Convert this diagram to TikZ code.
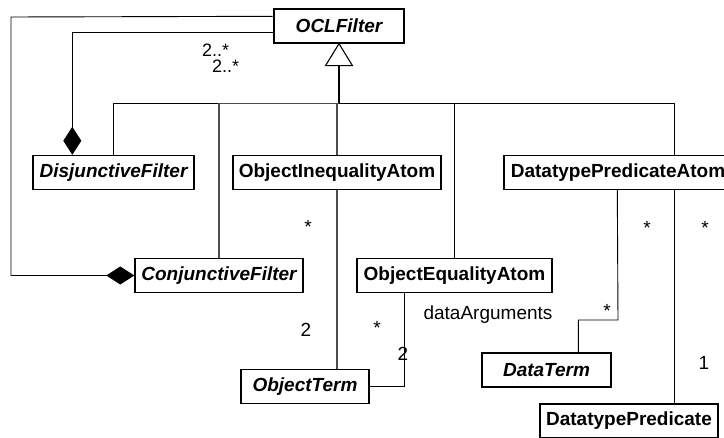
\documentclass[tikz,border=0pt]{standalone}
\usepackage{fontspec}
\setmainfont{Liberation Sans}
\usetikzlibrary{arrows.meta,calc}
\begin{document}
\begin{tikzpicture}[x=1pt,y=-1pt,
  cls/.style={draw, line width=1.4pt, fill=white, inner sep=0pt, minimum height=34pt,
    font=\fontsize{19}{21}\selectfont\bfseries},
  abs/.style={cls, font=\fontsize{19}{21}\selectfont\bfseries\itshape},
  lbl/.style={inner sep=0pt, anchor=base, font=\fontsize{19}{21}\selectfont},
  conn/.style={line width=0.9pt, black},
  gconn/.style={line width=1.1pt, black!70},
  agg/.style={conn, {Diamond[length=28pt,width=18pt]}-},
]
\useasboundingbox (0,0) rectangle (724,438);

% classes
\node[abs, minimum width=130pt] (ocl) at (339,26) {OCLFilter};
\node[abs, minimum width=161pt] (disj) at (113.5,172.5) {DisjunctiveFilter};
\node[cls, minimum width=208pt] (oia) at (337,172.5) {ObjectInequalityAtom};
\node[cls, minimum width=228pt] (dpa) at (618,172.5) {DatatypePredicateAtom};
\node[abs, minimum width=168pt] (conj) at (219,275.5) {ConjunctiveFilter};
\node[cls, minimum width=195pt] (oea) at (454.5,275.5) {ObjectEqualityAtom};
\node[abs, minimum width=128pt] (ot) at (305,386.5) {ObjectTerm};
\node[abs, minimum width=129pt] (dt) at (546.5,370) {DataTerm};
\node[cls, minimum width=178pt] (dp) at (629,421) {DatatypePredicate};

% generalization
\coordinate (tribase) at ($(ocl.south)+(0,22)$);
\coordinate (gen) at ($(ocl.south)+(0,60)$);
\coordinate (dpatop) at ($(dpa.north west)+(171,0)$);
\draw[line width=2pt] (tribase) -- (gen);
\draw[conn] (gen) -| (disj.north);
\draw[conn] (gen) -| (dpatop);
\draw[gconn] (gen) -| (conj.north);
\draw[gconn] (gen) -| (oia.north);
\draw[conn] (gen) -| (oea.north);
\draw[line width=1.1pt, fill=white] (ocl.south) -- ($(tribase)+(-13.5,0)$) -- ($(tribase)+(13.5,0)$) -- cycle;

% aggregations
\coordinate (o1) at ($(ocl.north west)+(0,8)$);
\coordinate (o2) at ($(ocl.north west)+(0,24)$);
\coordinate (c1) at (11,17);
\coordinate (dtop) at ($(disj.north west)+(40,0)$);
\draw[agg] (conj.west) -| (c1) -- (o1);
\draw[agg] (dtop) |- (o2);

% associations
\coordinate (oeab) at ($(oea.south west)+(48,0)$);
\coordinate (dpab) at ($(dpa.south west)+(114,0)$);
\coordinate (dpab2) at ($(dpa.south west)+(171,0)$);
\coordinate (dtbend) at (618,320);
\draw[gconn] (oia.south) -- (oia.south |- ot.north);
\draw[conn] (oeab) |- (ot.east);
\draw[conn] (dpab) -- (dtbend) -| ($(dt.north west)+(97,0)$);
\draw[conn] (dpab2) -- (dpab2 |- dp.north);

% labels
\node[lbl, anchor=base west, font=\fontsize{18}{20}\selectfont] (m1) at (202,57) {2..*};
\node[lbl, anchor=base west, font=\fontsize{18}{20}\selectfont] (m2) at (212,73) {2..*};
\node[lbl] (m3) at (308,234) {*};
\node[lbl] (m4) at (306,337) {2};
\node[lbl] (m5) at (377,335) {*};
\node[lbl] (m6) at (403,361) {2};
\node[lbl] (m7) at (488,320) {dataArguments};
\node[lbl] (m8) at (647,235) {*};
\node[lbl] (m9) at (705,235) {*};
\node[lbl] (m10) at (607,318) {*};
\node[lbl] (m11) at (704,370) {1};
\end{tikzpicture}
\end{document}
